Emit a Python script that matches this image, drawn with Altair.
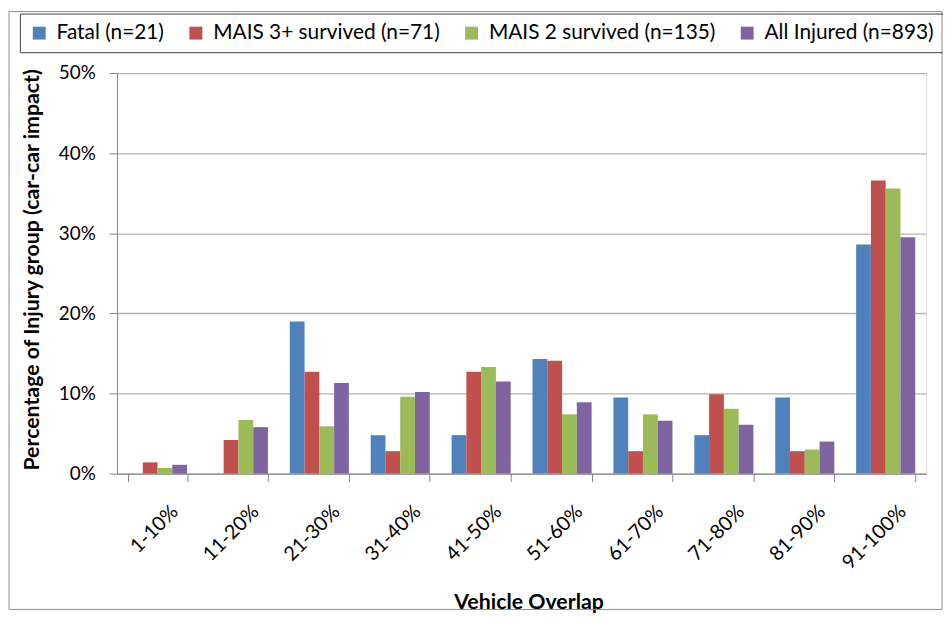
import altair as alt
import pandas as pd

categories = ["1-10%", "11-20%", "21-30%", "31-40%", "41-50%",
              "51-60%", "61-70%", "71-80%", "81-90%", "91-100%"]
series = ["Fatal (n=21)", "MAIS 3+ survived (n=71)",
          "MAIS 2 survived (n=135)", "All Injured (n=893)"]
fatal = [0.0, 0.0, 19.0, 4.8, 4.8, 14.3, 9.5, 4.8, 9.5, 28.6]
mais3 = [1.4, 4.2, 12.7, 2.8, 12.7, 14.1, 2.8, 9.9, 2.8, 36.6]
mais2 = [0.7, 6.7, 5.9, 9.6, 13.3, 7.4, 7.4, 8.1, 3.0, 35.6]
all_injured = [1.1, 5.8, 11.3, 10.2, 11.5, 8.9, 6.6, 6.1, 4.0, 29.5]
colors = ["#4F81BD", "#C0504D", "#9BBB59", "#8064A2"]

rows = []
for name, vals in zip(series, [fatal, mais3, mais2, all_injured]):
    for c, v in zip(categories, vals):
        rows.append({"overlap": c, "group": name, "pct": v / 100.0})
df = pd.DataFrame(rows)

FONT = "Lato"

bars = alt.Chart(df).mark_bar().encode(
    x=alt.X("overlap:N", sort=categories,
            scale=alt.Scale(paddingInner=0.27, paddingOuter=0.135),
            axis=alt.Axis(title="Vehicle Overlap", labelAngle=-45,
                          labelFontSize=20, labelFont=FONT, labelColor="#000",
                          labelPadding=20, labelOffset=10,
                          tickBand="extent", tickSize=8,
                          tickColor="#868686", domainColor="#868686",
                          titleFont=FONT, titleFontSize=21.5, titleFontWeight="bold",
                          titleColor="#000", titleX=415, titleY=130,
                          titleAlign="center", titleBaseline="middle",
                          grid=False)),
    xOffset=alt.XOffset("group:N", sort=series,
                        scale=alt.Scale(paddingInner=0, paddingOuter=0)),
    y=alt.Y("pct:Q", scale=alt.Scale(domain=[0, 0.5], nice=False),
            axis=alt.Axis(title="Percentage of Injury group (car-car impact)",
                          format=".0%", values=[0, 0.1, 0.2, 0.3, 0.4, 0.5],
                          labelFontSize=19, labelFont=FONT, labelColor="#000",
                          labelPadding=14, tickSize=8, tickColor="#868686",
                          domainColor="#868686", gridColor="#b3b3b3",
                          gridWidth=1.3,
                          titleFont=FONT, titleFontSize=21.5, titleFontWeight="bold",
                          titleColor="#000", titleX=-85, titleY=198,
                          titleAngle=-90, titleAlign="center",
                          titleBaseline="middle")),
    color=alt.Color("group:N", sort=series,
                    scale=alt.Scale(domain=series, range=colors),
                    legend=alt.Legend(orient="none", legendX=-98, legendY=-60,
                                      direction="horizontal", columns=4,
                                      title=None, symbolType="square",
                                      symbolSize=169, symbolStrokeWidth=0,
                                      labelFont=FONT, labelFontSize=21,
                                      labelLimit=400,
                                      labelColor="#000", labelOffset=7,
                                      columnPadding=21, padding=9,
                                      strokeColor="#404040")),
)

frame = alt.Chart(pd.DataFrame({"k": [0]})).mark_rect(
    fill=None, stroke="#8c8c8c", strokeWidth=1).encode(
    x=alt.value(-109), x2=alt.value(832), y=alt.value(-62), y2=alt.value(541))

chart = alt.layer(frame, bars).properties(
    width=816, height=404,
    padding={"left": 110, "top": 63, "right": 17, "bottom": 141},
    autosize=alt.AutoSizeParams(type="none"),
).configure_view(stroke=None).configure(background="white")

chart.save("out.html", embed_options={"renderer": "svg", "actions": False})
